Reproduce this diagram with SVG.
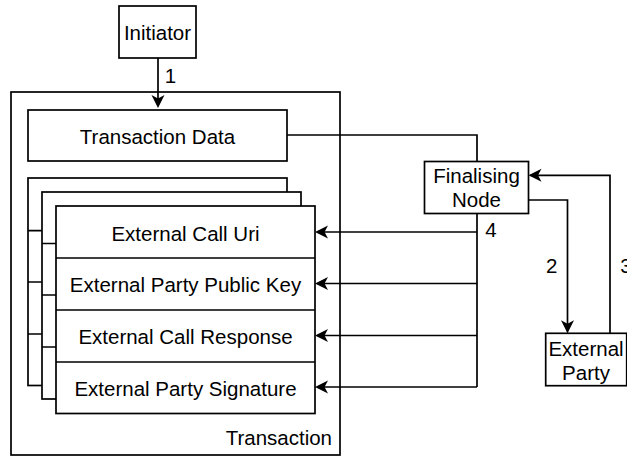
<svg xmlns="http://www.w3.org/2000/svg" width="627" height="456" viewBox="0 0 627 456">
<style>
.box{fill:#fff;stroke:#000;stroke-width:1.7}
.ln{fill:none;stroke:#000;stroke-width:1.7}
.t{font-family:"Liberation Sans",Arial,sans-serif;font-size:20.5px;fill:#000;text-anchor:middle}
.c{fill:none;stroke:#000;stroke-width:1.7}
.a{marker-end:url(#arr)}
</style>
<defs>
<marker id="arr" viewBox="-14 -8 16 16" refX="0" refY="0" markerWidth="16" markerHeight="16" orient="auto" markerUnits="userSpaceOnUse">
<path d="M2,0 L-11,-6.5 L-7.5,0 L-11,6.5 Z" fill="#000"/>
</marker>
</defs>
<rect width="627" height="456" fill="#fff"/>
<g id="transaction">
<rect class="box" x="11" y="92" width="329" height="363"/>
<text class="t" x="332" y="445" style="text-anchor:end">Transaction</text>
</g>
<g id="initiator">
<rect class="box" x="119" y="6" width="77" height="52"/>
<text class="t" x="157.5" y="40">Initiator</text>
</g>
<g id="transaction-data">
<rect class="box" x="28" y="110" width="259" height="51"/>
<text class="t" x="157.5" y="144">Transaction Data</text>
</g>
<g id="external-call-stack-back">
<rect class="box" x="28" y="178" width="259" height="207.5"/>
<path class="ln" d="M28,230.7H287M28,282H287M28,334H287"/>
</g>
<g id="external-call-stack-middle">
<rect class="box" x="42" y="192" width="259" height="207"/>
<path class="ln" d="M42,243.5H301M42,295H301M42,347H301"/>
</g>
<g id="external-call-stack-front">
<rect class="box" x="56" y="206" width="259" height="207.5"/>
<path class="ln" d="M56,258H315M56,310H315M56,362H315"/>
<text class="t" x="185.5" y="240.5">External Call Uri</text>
<text class="t" x="185.5" y="292">External Party Public Key</text>
<text class="t" x="185.5" y="344">External Call Response</text>
<text class="t" x="185.5" y="395.5">External Party Signature</text>
</g>
<g id="finalising-node">
<rect class="box" x="424.5" y="161.5" width="104" height="52"/>
<text class="t" x="476.5" y="182.5">Finalising</text>
<text class="t" x="476.5" y="206.5">Node</text>
</g>
<g id="external-party">
<rect class="box" x="545.7" y="333.3" width="81" height="52.4"/>
<text class="t" x="586" y="356">External</text>
<text class="t" x="586" y="379.5">Party</text>
</g>
<g id="connectors">
<path class="c a" d="M158,58V106"/>
<path class="c" d="M287,135H477V161.5"/>
<path class="c" d="M477,213.5V387"/>
<path class="c a" d="M477,232H317"/>
<path class="c a" d="M477,283.5H317"/>
<path class="c a" d="M477,335.5H317"/>
<path class="c a" d="M477,387H317"/>
<path class="c a" d="M528.5,200H567.5V331.3"/>
<path class="c a" d="M610,333.3V175.3H530.5"/>
<text class="t" x="170.5" y="83">1</text>
<text class="t" x="491" y="237">4</text>
<text class="t" x="551.7" y="272.7">2</text>
<text class="t" x="626" y="272.7">3</text>
</g>
</svg>
